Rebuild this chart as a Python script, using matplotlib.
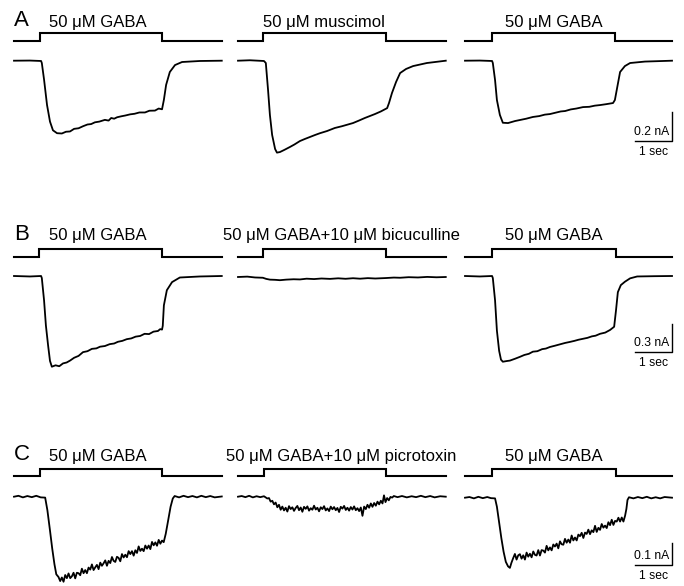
import matplotlib
matplotlib.use("Agg")
import matplotlib.pyplot as plt

plt.rcParams['font.family'] = ['Liberation Sans', 'DejaVu Sans']

W, H, DPI = 684, 586, 100

# ---------------- data: time in s, current in nA ----------------
row_letters = ['A', 'B', 'C']
row_titles = [
    ['50 μM GABA', '50 μM muscimol', '50 μM GABA'],
    ['50 μM GABA', '50 μM GABA+10 μM bicuculline', '50 μM GABA'],
    ['50 μM GABA', '50 μM GABA+10 μM picrotoxin', '50 μM GABA'],
]
stim_on = [[0.69, 0.67, 0.73], [0.68, 0.67, 0.73], [0.70, 0.70, 0.73]]
stim_off = [[3.99, 3.99, 4.04], [3.99, 3.99, 4.07], [3.99, 3.99, 4.07]]
scale_nA = [0.2, 0.3, 0.1]
scale_sec = 1

trace_a1 = [(0.00, 0.000), (0.43, 0.001), (0.73, -0.002), (0.75, -0.016), (0.81, -0.130),
            (0.89, -0.305), (0.97, -0.420), (1.05, -0.480), (1.16, -0.500), (1.29, -0.502),
            (1.40, -0.490), (1.51, -0.488), (1.62, -0.470), (1.74, -0.466), (1.86, -0.452),
            (1.98, -0.440), (2.08, -0.437), (2.18, -0.425), (2.30, -0.420), (2.45, -0.408),
            (2.55, -0.413), (2.62, -0.395), (2.70, -0.400), (2.78, -0.390), (2.90, -0.383),
            (3.00, -0.378), (3.13, -0.370), (3.25, -0.366), (3.38, -0.357), (3.53, -0.357),
            (3.65, -0.345), (3.80, -0.344), (3.90, -0.330), (3.99, -0.335), (4.04, -0.270),
            (4.10, -0.167), (4.20, -0.078), (4.34, -0.030), (4.53, -0.009), (5.01, -0.002),
            (5.60, 0.000)]
trace_a2 = [(0.00, 0.000), (0.32, 0.003), (0.70, -0.002), (0.75, -0.016), (0.81, -0.202),
            (0.86, -0.374), (0.92, -0.512), (1.00, -0.609), (1.05, -0.634), (1.13, -0.630),
            (1.25, -0.615), (1.40, -0.595), (1.52, -0.578), (1.67, -0.554), (1.80, -0.540),
            (1.94, -0.526), (2.08, -0.512), (2.21, -0.500), (2.40, -0.485), (2.61, -0.464),
            (2.80, -0.452), (2.95, -0.441), (3.10, -0.430), (3.25, -0.414), (3.42, -0.395),
            (3.55, -0.382), (3.69, -0.368), (3.85, -0.350), (4.02, -0.327), (4.07, -0.292),
            (4.15, -0.223), (4.26, -0.147), (4.37, -0.085), (4.53, -0.057), (4.72, -0.037),
            (5.09, -0.016), (5.60, 0.000)]
trace_a3 = [(0.00, 0.000), (0.40, 0.001), (0.73, -0.002), (0.75, -0.016), (0.81, -0.133),
            (0.86, -0.271), (0.94, -0.374), (1.02, -0.428), (1.16, -0.430), (1.35, -0.416),
            (1.50, -0.408), (1.65, -0.400), (1.83, -0.388), (2.00, -0.382), (2.15, -0.372),
            (2.29, -0.368), (2.45, -0.358), (2.58, -0.350), (2.70, -0.347), (2.85, -0.336),
            (3.00, -0.330), (3.18, -0.320), (3.35, -0.318), (3.50, -0.310), (3.64, -0.306),
            (3.80, -0.300), (3.99, -0.292), (4.04, -0.271), (4.10, -0.188), (4.18, -0.078),
            (4.31, -0.037), (4.45, -0.016), (4.85, -0.006), (5.58, 0.000)]

trace_b1 = [(0.00, 0.000), (0.43, -0.005), (0.73, 0.000), (0.75, -0.022), (0.81, -0.258),
            (0.86, -0.527), (0.92, -0.742), (0.97, -0.903), (1.02, -0.965), (1.12, -0.950),
            (1.22, -0.960), (1.32, -0.930), (1.42, -0.920), (1.51, -0.900), (1.62, -0.870),
            (1.74, -0.850), (1.86, -0.810), (1.98, -0.800), (2.10, -0.775), (2.22, -0.770),
            (2.32, -0.752), (2.45, -0.745), (2.58, -0.725), (2.70, -0.718), (2.80, -0.700),
            (2.92, -0.690), (3.04, -0.672), (3.16, -0.664), (3.28, -0.645), (3.40, -0.638),
            (3.52, -0.615), (3.64, -0.618), (3.76, -0.592), (3.88, -0.585), (3.94, -0.565),
            (3.99, -0.570), (4.01, -0.530), (4.04, -0.312), (4.12, -0.151), (4.26, -0.065),
            (4.47, -0.016), (5.01, -0.005), (5.60, 0.000)]
trace_b2 = [(0.00, 0.000), (0.25, 0.004), (0.46, -0.005), (0.67, -0.008), (0.76, -0.020),
            (0.86, -0.028), (1.00, -0.030), (1.13, -0.034), (1.30, -0.028), (1.50, -0.024),
            (1.67, -0.026), (1.85, -0.018), (2.05, -0.022), (2.25, -0.016), (2.48, -0.020),
            (2.70, -0.014), (2.90, -0.019), (3.10, -0.013), (3.29, -0.018), (3.50, -0.012),
            (3.70, -0.016), (3.99, -0.011), (4.20, -0.006), (4.37, -0.008), (4.60, -0.002),
            (4.85, -0.005), (5.10, 0.001), (5.35, -0.003), (5.60, 0.000)]
trace_b3 = [(0.00, 0.000), (0.40, -0.005), (0.73, 0.000), (0.75, -0.022), (0.81, -0.258),
            (0.86, -0.581), (0.92, -0.796), (0.97, -0.890), (1.02, -0.912), (1.12, -0.905),
            (1.21, -0.900), (1.35, -0.880), (1.48, -0.860), (1.60, -0.840), (1.72, -0.828),
            (1.83, -0.805), (1.95, -0.800), (2.08, -0.778), (2.18, -0.772), (2.29, -0.755),
            (2.42, -0.742), (2.55, -0.728), (2.70, -0.712), (2.82, -0.702), (2.95, -0.690),
            (3.06, -0.678), (3.18, -0.668), (3.30, -0.658), (3.42, -0.642), (3.52, -0.635),
            (3.64, -0.615), (3.78, -0.602), (3.91, -0.574), (4.02, -0.540), (4.07, -0.366),
            (4.12, -0.172), (4.20, -0.097), (4.31, -0.061), (4.45, -0.025), (4.64, -0.005),
            (5.10, -0.002), (5.58, 0.000)]

trace_c1 = [(0.00, 0.000), (0.12, 0.004), (0.24, -0.003), (0.36, 0.003), (0.48, -0.002),
            (0.60, 0.004), (0.72, -0.003), (0.84, -0.004), (0.90, -0.060), (0.97, -0.150),
            (1.03, -0.230), (1.09, -0.300), (1.14, -0.345),
            (1.200, -0.357), (1.245, -0.375), (1.290, -0.359), (1.335, -0.378), (1.380, -0.348),
            (1.425, -0.362), (1.470, -0.341), (1.515, -0.362), (1.560, -0.354), (1.605, -0.338),
            (1.650, -0.363), (1.695, -0.338), (1.740, -0.340), (1.785, -0.349), (1.830, -0.320),
            (1.875, -0.340), (1.920, -0.326), (1.965, -0.340), (2.010, -0.315), (2.055, -0.324),
            (2.100, -0.301), (2.145, -0.326), (2.190, -0.314), (2.235, -0.303), (2.280, -0.322),
            (2.325, -0.293), (2.370, -0.307), (2.415, -0.296), (2.460, -0.283), (2.505, -0.307),
            (2.550, -0.285), (2.595, -0.295), (2.640, -0.268), (2.685, -0.285), (2.730, -0.290),
            (2.775, -0.267), (2.820, -0.272), (2.865, -0.287), (2.910, -0.255), (2.955, -0.270),
            (3.000, -0.258), (3.045, -0.269), (3.090, -0.242), (3.135, -0.255), (3.180, -0.242),
            (3.225, -0.262), (3.270, -0.238), (3.315, -0.250), (3.360, -0.221), (3.405, -0.241),
            (3.450, -0.231), (3.495, -0.242), (3.540, -0.217), (3.585, -0.231), (3.630, -0.217),
            (3.675, -0.233), (3.720, -0.201), (3.765, -0.216), (3.810, -0.203), (3.855, -0.218),
            (3.900, -0.192), (3.945, -0.209), (3.990, -0.195), (4.035, -0.202),
            (4.09, -0.165), (4.15, -0.110), (4.22, -0.045), (4.28, -0.008), (4.33, 0.003),
            (4.45, -0.003), (4.57, 0.004), (4.69, -0.002), (4.81, 0.003), (4.93, -0.003),
            (5.05, 0.004), (5.17, -0.002), (5.29, 0.003), (5.41, -0.003), (5.60, 0.001)]
trace_c2 = [(0.00, 0.000), (0.10, 0.003), (0.20, -0.002), (0.30, 0.004), (0.40, -0.003),
            (0.50, 0.002), (0.60, -0.002), (0.700, 0.002), (0.745, -0.003), (0.790, -0.008),
            (0.835, -0.006), (0.880, -0.022), (0.925, -0.018), (0.970, -0.034), (1.015, -0.026),
            (1.060, -0.047), (1.105, -0.036), (1.150, -0.058), (1.195, -0.044), (1.240, -0.061),
            (1.285, -0.049), (1.330, -0.066), (1.375, -0.042), (1.420, -0.055), (1.465, -0.047),
            (1.510, -0.063), (1.555, -0.050), (1.600, -0.041), (1.645, -0.060), (1.690, -0.048),
            (1.735, -0.067), (1.780, -0.045), (1.825, -0.054), (1.870, -0.043), (1.915, -0.062),
            (1.960, -0.051), (2.005, -0.058), (2.050, -0.040), (2.095, -0.057), (2.140, -0.049),
            (2.185, -0.065), (2.230, -0.047), (2.275, -0.055), (2.320, -0.042), (2.365, -0.061),
            (2.410, -0.052), (2.455, -0.064), (2.500, -0.044), (2.545, -0.056), (2.590, -0.046),
            (2.635, -0.060), (2.680, -0.050), (2.725, -0.068), (2.770, -0.045), (2.815, -0.053),
            (2.860, -0.041), (2.905, -0.059), (2.950, -0.049), (2.995, -0.062), (3.040, -0.046),
            (3.085, -0.057), (3.130, -0.043), (3.175, -0.060), (3.220, -0.051), (3.265, -0.064),
            (3.310, -0.048), (3.355, -0.085), (3.400, -0.044), (3.445, -0.055), (3.490, -0.036),
            (3.535, -0.049), (3.580, -0.030), (3.625, -0.045), (3.670, -0.028), (3.715, -0.040),
            (3.760, -0.022), (3.805, -0.034), (3.850, -0.018), (3.895, -0.030), (3.935, 0.006),
            (3.975, -0.024), (4.020, -0.006), (4.065, -0.016), (4.110, -0.001), (4.155, -0.004),
            (4.200, 0.003), (4.30, -0.002), (4.42, 0.003), (4.55, -0.003), (4.68, 0.002),
            (4.80, -0.002), (4.93, 0.004), (5.05, -0.002), (5.18, 0.003), (5.30, -0.003),
            (5.45, 0.002), (5.60, 0.000)]
trace_c3 = [(0.00, 0.000), (0.12, 0.003), (0.24, -0.003), (0.36, 0.004), (0.48, -0.002),
            (0.60, 0.003), (0.70, -0.002), (0.81, -0.003), (0.86, -0.040), (0.92, -0.110),
            (0.98, -0.180), (1.04, -0.240), (1.10, -0.285), (1.16, -0.305), (1.21, -0.312),
            (1.25, -0.290),
            (1.300, -0.268), (1.345, -0.250), (1.390, -0.275), (1.435, -0.256), (1.480, -0.251),
            (1.525, -0.271), (1.570, -0.256), (1.615, -0.275), (1.660, -0.244), (1.705, -0.262),
            (1.750, -0.249), (1.795, -0.265), (1.840, -0.239), (1.885, -0.254), (1.930, -0.257),
            (1.975, -0.233), (2.020, -0.257), (2.065, -0.233), (2.110, -0.235), (2.155, -0.244),
            (2.200, -0.214), (2.245, -0.234), (2.290, -0.221), (2.335, -0.234), (2.380, -0.208),
            (2.425, -0.217), (2.470, -0.204), (2.515, -0.225), (2.560, -0.194), (2.605, -0.207),
            (2.650, -0.209), (2.695, -0.183), (2.740, -0.200), (2.785, -0.186), (2.830, -0.200),
            (2.875, -0.168), (2.920, -0.190), (2.965, -0.177), (3.010, -0.190), (3.055, -0.164),
            (3.100, -0.171), (3.145, -0.156), (3.190, -0.179), (3.235, -0.155), (3.280, -0.161),
            (3.325, -0.142), (3.370, -0.162), (3.415, -0.145), (3.460, -0.153), (3.505, -0.125),
            (3.550, -0.152), (3.595, -0.134), (3.640, -0.143), (3.685, -0.117), (3.730, -0.133),
            (3.775, -0.124), (3.820, -0.135), (3.865, -0.109), (3.910, -0.122), (3.955, -0.098),
            (4.000, -0.121), (4.045, -0.103), (4.090, -0.106), (4.135, -0.089), (4.180, -0.106),
            (4.225, -0.088), (4.270, -0.106), (4.315, -0.080),
            (4.35, -0.050), (4.38, -0.010), (4.42, 0.002), (4.54, -0.003), (4.66, 0.003),
            (4.78, -0.002), (4.90, 0.004), (5.02, -0.003), (5.14, 0.002), (5.26, -0.003),
            (5.38, 0.003), (5.58, 0.000)]

traces = [[trace_a1, trace_a2, trace_a3],
          [trace_b1, trace_b2, trace_b3],
          [trace_c1, trace_c2, trace_c3]]

# ---------------- layout (pixels of the 684x586 image) ----------------
COL_X = [(14, 222), (238, 446), (465, 672)]
PX_PER_S = 37.1
PX_PER_NA = [145, 94, 225]
STIM_Y = [(33.3, 40.7), (248.6, 256.8), (468.8, 476.0)]     # (top, base)
TRACE_BASE_Y = [[60.7, 60.7, 60.7], [276, 277, 276], [496.7, 496.7, 497.7]]
TITLE_BASE_Y = [26.5, 240.5, 460.5]
TITLE_X = [[98, 324, 554], [98, 341, 554], [98, 341, 554]]
LETTER_X = 14
SCALE_X = 671.7
SCALE_Y = [141, 351.7, 565]


def box(x0, x1, ytop, ybot):
    return [x0 / W, 1 - ybot / H, (x1 - x0) / W, (ybot - ytop) / H]


fig = plt.figure(figsize=(W / DPI, H / DPI), dpi=DPI)
fig.patch.set_facecolor('white')

for r in range(3):
    fig.text(LETTER_X / W, 1 - TITLE_BASE_Y[r] / H, row_letters[r],
             fontsize=16, ha='left', va='baseline')
    for c in range(3):
        x0, x1 = COL_X[c]
        tmax = (x1 - x0) / PX_PER_S
        fig.text(TITLE_X[r][c] / W, 1 - TITLE_BASE_Y[r] / H, row_titles[r][c],
                 fontsize=12, ha='center', va='baseline')

        # drug application step
        top, base = STIM_Y[r]
        sax = fig.add_axes(box(x0, x1, top, base))
        sax.plot([0, stim_on[r][c], stim_on[r][c], stim_off[r][c], stim_off[r][c], tmax],
                 [0, 0, 1, 1, 0, 0], color='black', lw=1.5, clip_on=False,
                 solid_joinstyle='miter')
        sax.set_xlim(0, tmax)
        sax.set_ylim(0, 1)
        sax.axis('off')

        # current trace
        yb = TRACE_BASE_Y[r][c]
        ppn = PX_PER_NA[r]
        tax = fig.add_axes(box(x0, x1, yb - 10, yb + 110))
        t = [p[0] for p in traces[r][c]]
        i = [p[1] for p in traces[r][c]]
        tax.plot(t, i, color='black', lw=1.3, clip_on=False, solid_joinstyle='round')
        tax.set_xlim(0, tmax)
        tax.set_ylim(-110 / ppn, 10 / ppn)
        tax.axis('off')

        if c == 2:
            te = (SCALE_X - x0) / PX_PER_S
            ys = -(SCALE_Y[r] - yb) / ppn
            tax.plot([te - scale_sec, te, te], [ys, ys, ys + scale_nA[r]],
                     color='black', lw=1.0, clip_on=False)
            tax.annotate(f'{scale_nA[r]} nA', xy=(te, ys), xytext=(-2, 4),
                         textcoords='offset points', ha='right', va='baseline',
                         fontsize=8.7)
            tax.annotate(f'{scale_sec} sec', xy=(te - scale_sec / 2, ys), xytext=(0, -10),
                         textcoords='offset points', ha='center', va='baseline',
                         fontsize=8.7)

fig.savefig('out.png', dpi=DPI, facecolor='white')
